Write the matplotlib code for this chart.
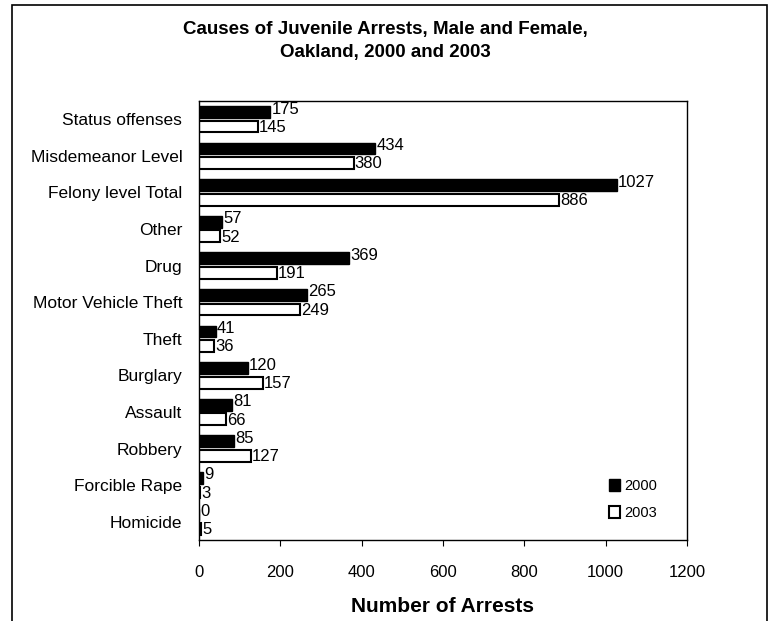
import numpy as np
import matplotlib.pyplot as plt
from matplotlib.patches import Rectangle

plt.rcParams['font.family'] = ['Liberation Sans', 'DejaVu Sans']

categories = ["Status offenses", "Misdemeanor Level", "Felony level Total", "Other",
              "Drug", "Motor Vehicle Theft", "Theft", "Burglary", "Assault",
              "Robbery", "Forcible Rape", "Homicide"]
arrests_2000 = [175, 434, 1027, 57, 369, 265, 41, 120, 81, 85, 9, 0]
arrests_2003 = [145, 380, 886, 52, 191, 249, 36, 157, 66, 127, 3, 5]
years = ["2000", "2003"]

fig = plt.figure(figsize=(7.7, 6.21), dpi=100)
ax = fig.add_axes([0.2584, 0.1304, 0.6338, 0.7070])

ypos = np.arange(len(categories))
h = 0.32
off = 0.2

ax.barh(ypos - off, arrests_2000, height=h, color="black", edgecolor="black",
        linewidth=1, label=years[0])
ax.barh(ypos + off, arrests_2003, height=h, color="white", edgecolor="black",
        linewidth=1.5, label=years[1])

# value labels just past each bar end
for y, v in zip(ypos, arrests_2000):
    ax.text(v + 3, y - off - 0.08, str(v), va="center", ha="left", fontsize=12)
for y, v in zip(ypos, arrests_2003):
    ax.text(v + 3, y + off + 0.02, str(v), va="center", ha="left", fontsize=12)

ax.set_ylim(len(categories) - 0.5, -0.5)
ax.set_yticks(ypos)
ax.set_yticklabels(categories, fontsize=12.5)
ax.tick_params(axis="y", length=0, pad=12)

ax.set_xlim(0, 1200)
ax.set_xticks(range(0, 1201, 200))
ax.tick_params(axis="x", labelsize=12, length=4, direction="out", pad=14)
ax.set_xlabel("Number of Arrests", fontsize=15, fontweight="bold", labelpad=12)

for s in ax.spines.values():
    s.set_linewidth(1)
    s.set_color("black")

ax.legend(loc="lower right", bbox_to_anchor=(0.965, 0.015), frameon=False,
          handlelength=0.7, handleheight=0.9, handletextpad=0.3,
          labelspacing=0.9, fontsize=10.5)

fig.text(0.5, 0.953, "Causes of Juvenile Arrests, Male and Female,",
         ha="center", va="center", fontsize=13.5, fontweight="bold")
fig.text(0.5, 0.916, "Oakland, 2000 and 2003",
         ha="center", va="center", fontsize=13.5, fontweight="bold")

# outer chart border
fig.patches.append(Rectangle((0.0156, -0.05), 0.981, 1.042, transform=fig.transFigure,
                             fill=False, edgecolor="black", linewidth=1.2))

fig.savefig("out.png", dpi=100)
